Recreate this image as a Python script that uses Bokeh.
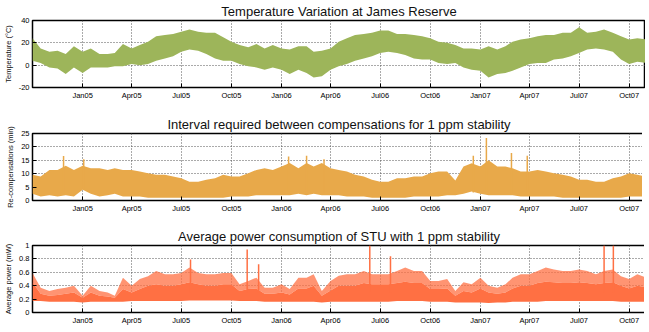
import pandas as pd
from bokeh.plotting import figure
from bokeh.layouts import column
from bokeh.models import FixedTicker, Range1d, ColumnDataSource
from bokeh.embed import file_html
from bokeh.resources import INLINE

# ---- data (half-monthly envelopes) ----
years_months = [(2004, m) for m in (10, 11, 12)] + [(y, m) for y in (2005, 2006) for m in range(1, 13)] \
    + [(2007, m) for m in range(1, 11)]
sample_dates = [pd.Timestamp(y, m, d) for (y, m) in years_months for d in (1, 16)] + [pd.Timestamp(2007, 11, 1)]

temp_hi = [24, 15, 12, 13, 10, 17,
           12, 15, 10, 10, 11, 19, 15, 18, 21, 26, 27, 28, 30, 32, 30, 29, 29, 25, 21, 18, 16, 19, 15, 18,
           15, 14, 17, 17, 12, 13, 15, 21, 24, 27, 28, 29, 31, 31, 28, 28, 27, 26, 24, 21, 20, 18, 15, 15,
           14, 17, 14, 17, 21, 23, 24, 26, 27, 27, 29, 29, 34, 29, 30, 32, 29, 26, 23, 24, 23]
temp_lo = [4, 2, -2, -3, -8, -2,
           -7, -2, -2, -2, -1, -1, 1, 0, 1, 4, 6, 8, 12, 14, 13, 10, 6, 4, 4, 1, -1, -2, -4, -2,
           -4, -8, -4, -7, -11, -10, -4, -1, 1, 4, 6, 8, 11, 12, 11, 9, 6, 5, 5, 2, 1, 2, -2, -4,
           -5, -11, -8, -7, -5, -2, 1, 2, 2, 5, 6, 8, 11, 14, 15, 14, 12, 5, 1, 3, 2]

rec_hi = [9.6, 9, 11.4, 11.4, 13, 11.4,
          13, 12, 12, 11.4, 12, 11.4, 11.4, 10.8, 10.2, 9.6, 9.6, 9, 8.3, 7, 7, 7.7, 8.3, 9.6, 9, 9, 10.2, 11.4, 12, 11.4,
          12.7, 14, 12, 14, 12.7, 14, 12, 11.4, 10.8, 9.6, 9, 7.7, 7, 7, 8.3, 8.3, 9, 9, 10.2, 10.8, 10.8, 7.5, 12.7, 13.9,
          12.7, 15, 12.7, 12.7, 12, 10.8, 10.8, 11.4, 10.8, 10.2, 9.6, 9, 7.7, 7.7, 7, 7, 8.3, 9, 10.2, 9.6, 9]
rec_lo = [2.5, 1.5, 2, 1.5, 2, 1.5,
          4, 2.5, 1.5, 2, 2.5, 1.5, 1.5, 1.5, 1, 1, 1, 1, 1, 1, 1, 1, 1, 1, 1.5, 1.5, 1.5, 2, 2, 2,
          2, 2, 2.5, 2, 2.5, 2, 2, 2, 1.5, 1.5, 1.5, 1, 1, 1, 1, 1, 1.5, 1.5, 1.5, 1.5, 2, 2, 2.5, 3.4,
          2.5, 2, 2, 2, 2, 1.5, 1.5, 1.5, 1.5, 1.5, 1, 1, 1, 1, 1, 1, 1, 1, 1.5, 1.5, 1.5]

pow_hi = [0.59, 0.37, 0.32, 0.35, 0.37, 0.40,
          0.25, 0.40, 0.32, 0.30, 0.25, 0.52, 0.40, 0.50, 0.54, 0.62, 0.57, 0.57, 0.59, 0.67, 0.59, 0.57, 0.57, 0.59,
          0.59, 0.42, 0.47, 0.52, 0.37, 0.37,
          0.42, 0.35, 0.52, 0.52, 0.57, 0.32, 0.47, 0.55, 0.57, 0.57, 0.62, 0.57, 0.57, 0.57, 0.62, 0.67, 0.62, 0.62,
          0.47, 0.47, 0.50, 0.32, 0.45, 0.42,
          0.52, 0.40, 0.37, 0.42, 0.52, 0.57, 0.57, 0.62, 0.67, 0.64, 0.62, 0.62, 0.64, 0.62, 0.57, 0.62, 0.64, 0.54,
          0.50, 0.57, 0.52]
pow_mid = [0.45, 0.28, 0.25, 0.26, 0.28, 0.30,
           0.22, 0.30, 0.25, 0.24, 0.22, 0.35, 0.30, 0.35, 0.40, 0.42, 0.40, 0.40, 0.42, 0.45, 0.42, 0.40, 0.40, 0.42,
           0.42, 0.32, 0.35, 0.36, 0.28, 0.28,
           0.30, 0.27, 0.36, 0.36, 0.40, 0.25, 0.33, 0.40, 0.40, 0.40, 0.44, 0.42, 0.42, 0.42, 0.44, 0.46, 0.44, 0.44,
           0.35, 0.35, 0.36, 0.25, 0.32, 0.30,
           0.36, 0.30, 0.28, 0.30, 0.36, 0.40, 0.40, 0.44, 0.46, 0.45, 0.44, 0.44, 0.45, 0.44, 0.42, 0.44, 0.45, 0.40,
           0.36, 0.40, 0.38]
pow_lo = [0.17, 0.17, 0.16, 0.16, 0.16, 0.16,
          0.15, 0.16, 0.16, 0.16, 0.16, 0.16, 0.17, 0.17, 0.17, 0.17, 0.17, 0.17, 0.17, 0.18, 0.18, 0.18, 0.18, 0.18,
          0.18, 0.17, 0.17, 0.17, 0.16, 0.16,
          0.16, 0.16, 0.16, 0.16, 0.16, 0.15, 0.16, 0.16, 0.16, 0.16, 0.16, 0.16, 0.16, 0.16, 0.17, 0.17, 0.17, 0.17,
          0.16, 0.16, 0.16, 0.15, 0.15, 0.15,
          0.15, 0.14, 0.15, 0.15, 0.16, 0.16, 0.16, 0.16, 0.17, 0.17, 0.17, 0.17, 0.17, 0.17, 0.17, 0.17, 0.17, 0.16,
          0.16, 0.16, 0.16]

# isolated peaks
rec_spike_dates = ["2004-11-27", "2005-01-03", "2006-01-14", "2006-02-16", "2006-03-20",
                   "2006-12-19", "2007-01-12", "2007-02-27", "2007-03-28"]
rec_spike_vals = [16.6, 15.4, 16.4, 16.7, 15.4, 16.7, 23.3, 17.7, 16.7]
rec_spike_base = [3, 4, 3, 3, 3, 3, 3, 3, 3]

pow_spike_dates = ["2005-07-18", "2005-10-30", "2005-11-20", "2006-06-12", "2006-07-20", "2007-08-16", "2007-09-02"]
pow_spike_vals = [0.79, 0.94, 0.72, 1.0, 0.84, 1.0, 1.0]
pow_spike_base = [0.3, 0.3, 0.3, 0.3, 0.3, 0.3, 0.3]

x_tick_dates = ["2005-01-01", "2005-04-01", "2005-07-01", "2005-10-01", "2006-01-01", "2006-04-01",
                "2006-07-01", "2006-10-01", "2007-01-01", "2007-04-01", "2007-07-01", "2007-10-01"]
x_tick_labels = ["Jan05", "Apr05", "Jul05", "Oct05", "Jan06", "Apr06",
                 "Jul06", "Oct06", "Jan07", "Apr07", "Jul07", "Oct07"]

temp_ticks, temp_labels = [-20, 0, 20, 40], ["-20", "0", "20", "40"]
rec_ticks, rec_labels = [0, 5, 10, 15, 20, 25], ["0", "5", "10", "15", "20", "25"]
pow_ticks, pow_labels = [0, 0.2, 0.4, 0.6, 0.8, 1.0], ["0", "0.2", "0.4", "0.6", "0.8", "1"]

# ---- styling ----
FONT = "Liberation Sans"
GREEN = "#9db55a"
ORANGE = "#e8a94a"
RED = "#ff7043"


def ms(s):
    return pd.Timestamp(s).value / 1e6


xt = [ms(d) for d in x_tick_dates]
x_start, x_end = pd.Timestamp("2004-10-01"), pd.Timestamp("2007-10-31")


def style_axis(ax):
    ax.axis_line_color = None
    ax.major_tick_in = 4
    ax.major_tick_out = 0
    ax.minor_tick_line_color = None
    ax.major_tick_line_color = "black"
    ax.major_label_text_font = FONT
    ax.major_label_text_font_size = "7.5px"
    ax.major_label_text_color = "black"
    ax.major_label_standoff = 3


def make_fig(fh, top, bottom, y0, y1, yt, yl, ylabel, title):
    p = figure(frame_width=613, frame_height=fh, x_axis_type="datetime",
               x_range=Range1d(x_start, x_end), y_range=Range1d(y0, y1),
               output_backend="svg", toolbar_location=None,
               min_border_left=28, min_border_right=0,
               min_border_top=top, min_border_bottom=bottom)
    p.title.text = title
    p.title.text_font = FONT
    p.title.text_font_size = "13px"
    p.title.text_font_style = "normal"
    p.title.text_color = "#111111"
    p.title.align = "center"
    p.title.offset = 3
    p.title.standoff = 3
    p.outline_line_color = "black"
    p.outline_line_width = 1.5
    p.background_fill_color = "white"
    p.border_fill_color = "white"

    xax = p.xaxis[0]
    xax.ticker = FixedTicker(ticks=xt)
    xax.major_label_overrides = {t: l for t, l in zip(xt, x_tick_labels)}
    yax = p.yaxis[0]
    yax.ticker = FixedTicker(ticks=yt)
    yax.major_label_overrides = {t: l for t, l in zip(yt, yl)}
    yax.axis_label = ylabel
    yax.axis_label_text_font = FONT
    yax.axis_label_text_font_size = "7.5px"
    yax.axis_label_text_font_style = "normal"
    yax.axis_label_text_color = "#111111"
    yax.axis_label_standoff = 3
    style_axis(xax)
    style_axis(yax)

    p.grid.grid_line_color = "#555555"
    p.grid.grid_line_dash = "1 2"
    p.grid.grid_line_width = 1
    return p


p1 = make_fig(67, 16, 21, -20, 40, temp_ticks, temp_labels, "Temperature (°C)",
              "Temperature Variation at James Reserve")
src1 = ColumnDataSource(dict(x=sample_dates, lo=temp_lo, hi=temp_hi))
p1.varea(x="x", y1="lo", y2="hi", source=src1, fill_color=GREEN)

p2 = make_fig(67, 25, 17, 0, 25, rec_ticks, rec_labels, "Re-compensations (min)",
              "Interval required between compensations for 1 ppm stability")
src2 = ColumnDataSource(dict(x=sample_dates, lo=rec_lo, hi=rec_hi))
p2.varea(x="x", y1="lo", y2="hi", source=src2, fill_color=ORANGE)
rs = ColumnDataSource(dict(x=pd.to_datetime(rec_spike_dates), b=rec_spike_base, v=rec_spike_vals))
p2.segment(x0="x", y0="b", x1="x", y1="v", source=rs, line_color=ORANGE, line_width=1.5)

p3 = make_fig(67, 28, 11, 0, 1, pow_ticks, pow_labels, "Average power (mW)",
              "Average power consumption of STU with 1 ppm stability")
src3 = ColumnDataSource(dict(x=sample_dates, lo=pow_lo, mid=pow_mid, hi=pow_hi))
p3.varea(x="x", y1="mid", y2="hi", source=src3, fill_color=RED, fill_alpha=0.75)
p3.varea(x="x", y1="lo", y2="mid", source=src3, fill_color=RED)
ps = ColumnDataSource(dict(x=pd.to_datetime(pow_spike_dates), b=pow_spike_base, v=pow_spike_vals))
p3.segment(x0="x", y0="b", x1="x", y1="v", source=ps, line_color=RED, line_width=1.5)

layout = column(p1, p2, p3, spacing=0)
open("out.html", "w").write(file_html(layout, INLINE))
